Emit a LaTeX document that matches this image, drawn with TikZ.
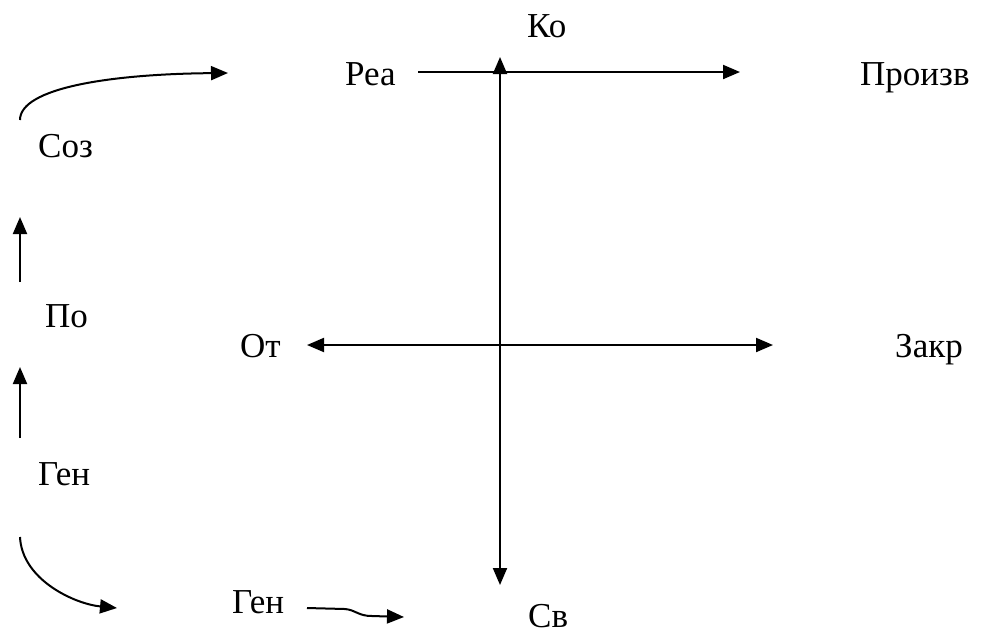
\documentclass[tikz,border=0pt]{standalone}
\usepackage{fontspec}
\setmainfont{Liberation Serif}
\newfontfamily\tnrfont{Liberation Serif}
\usetikzlibrary{arrows.meta}
\begin{document}
\begin{tikzpicture}[x=1pt,y=-1pt,
  lbl/.style={anchor=base west,inner sep=0pt,font=\tnrfont\fontsize{35}{42}\selectfont},
  tip/.tip={Triangle[length=17pt,width=14pt]},
  con/.style={line width=2pt,-tip},
  dcon/.style={line width=2pt,tip-tip}]
\useasboundingbox (0,0) rectangle (984,633);
% labels
\node[lbl] (ko) at (527,37) {Ко};
\node[lbl] (rea) at (345,85) {Реа};
\node[lbl] (proizv) at (860,85) {Произв};
\node[lbl] (soz) at (38,157) {Соз};
\node[lbl] (po) at (45,327) {По};
\node[lbl] (ot) at (240,357) {От};
\node[lbl] (zakr) at (895,357) {Закр};
\node[lbl] (gen1) at (38,485) {Ген};
\node[lbl] (gen2) at (232,613) {Ген};
\node[lbl] (sv) at (528,627) {Св};
% coordinates
\coordinate (vtop) at (500,57);
\coordinate (vbot) at (500,585);
\coordinate (hl) at (307,345);
\coordinate (hr) at (773,345);
\coordinate (ts) at (418,72);
\coordinate (te) at (740,72);
\coordinate (a1s) at (20,282);
\coordinate (a1e) at (20,217);
\coordinate (a2s) at (20,438);
\coordinate (a2e) at (20,367);
\coordinate (c1s) at (20,120);
\coordinate (c1e) at (228,73);
\coordinate (c2s) at (20,537);
\coordinate (c2e) at (117,608);
\coordinate (ws) at (307,608);
\coordinate (we) at (404,617);
% connectors
\draw[dcon] (vbot) -- (vtop);
\draw[dcon] (hl) -- (hr);
\draw[con] (ts) -- (te);
\draw[con] (a1s) -- (a1e);
\draw[con] (a2s) -- (a2e);
\draw[con] (c1s) .. controls (20,88) and (110,74) .. (c1e);
\draw[con] (c2s) .. controls (22,580) and (75,604) .. (c2e);
\draw[con] (ws) -- (345,609) .. controls (356,610) and (358,616) .. (372,616) -- (we);
\end{tikzpicture}
\end{document}
